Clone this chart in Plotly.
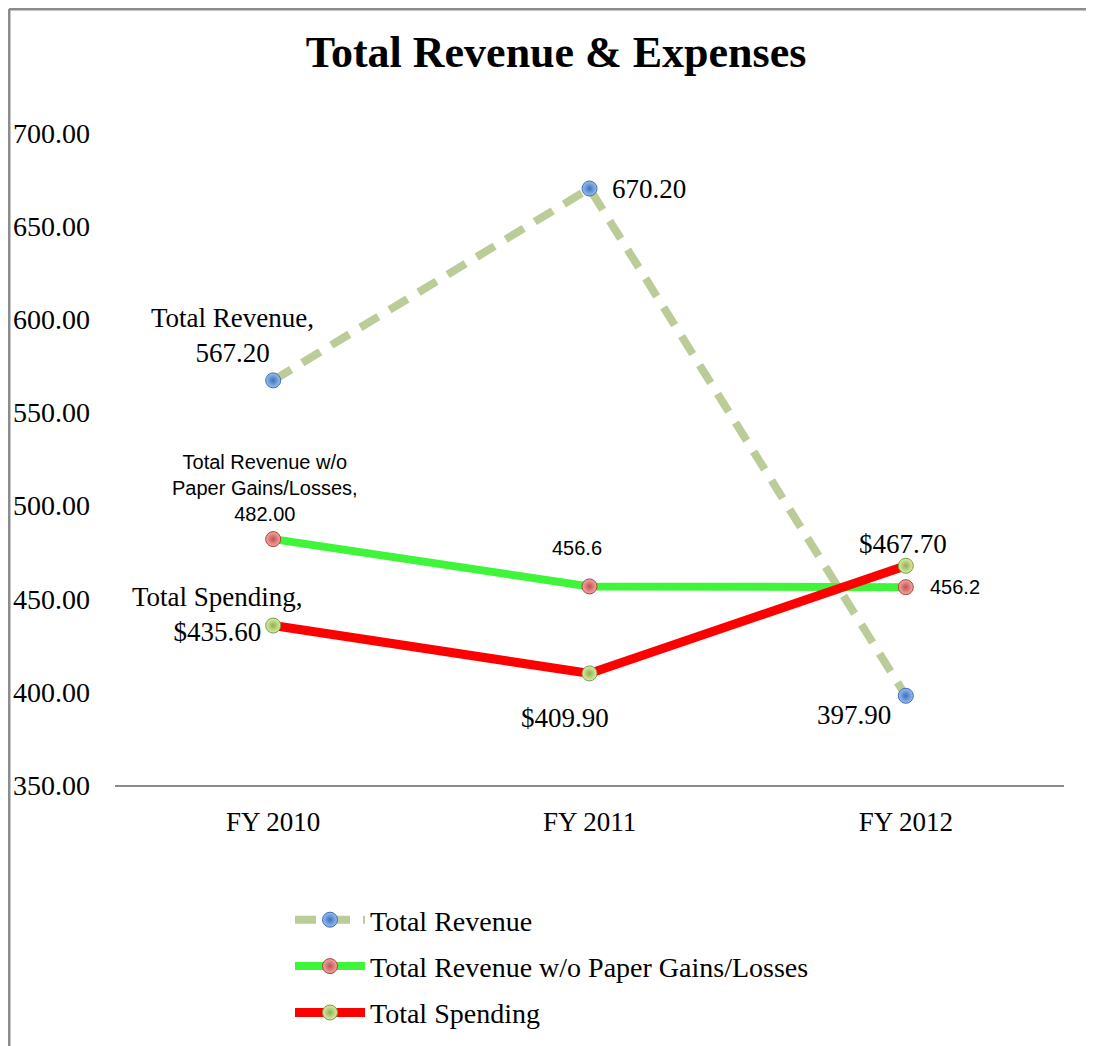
import plotly.graph_objects as go

# ---------------- data ----------------
categories = ["FY 2010", "FY 2011", "FY 2012"]
total_revenue = [567.20, 670.20, 397.90]
revenue_wo_paper = [482.00, 456.6, 456.2]
total_spending = [435.60, 409.90, 467.70]

y_tick_values = [350, 400, 450, 500, 550, 600, 650, 700]
y_tick_labels = ["350.00", "400.00", "450.00", "500.00", "550.00", "600.00", "650.00", "700.00"]

revenue_labels = ["Total Revenue,<br>567.20", "670.20", "397.90"]
wo_paper_labels = ["Total Revenue w/o<br>Paper Gains/Losses,<br>482.00", "456.6", "456.2"]
spending_labels = ["Total Spending,<br>$435.60", "$409.90", "$467.70"]

series_names = ["Total Revenue", "Total Revenue w/o Paper Gains/Losses", "Total Spending"]

# ---------------- styles ----------------
SERIF = "Liberation Serif, Times New Roman, serif"
SANS = "Liberation Sans Narrow, Arial Narrow, Liberation Sans, Arial, sans-serif"
OFF = 8  # page body margin
W, H = 1094 - OFF, 1046 - OFF
ML, MT = 115 - OFF, 133 - OFF
PW, PH = 949, 652
MR, MB = W - ML - PW, H - MT - PH


def px_x(px):  # reference page px -> paper x
    return (px - OFF - ML) / PW


def px_y(py):  # reference page px -> paper y
    return (MT + PH - (py - OFF)) / PH


fig = go.Figure()

fig.add_trace(go.Scatter(
    x=categories, y=total_revenue, name=series_names[0], mode="lines+markers",
    line=dict(color="#BBCC98", width=8, dash="21px,13px"),
    marker=dict(size=15, color="#9CC0EE", line=dict(color="#3F6DB0", width=1),
                gradient=dict(type="radial", color="#3C6FC0")),
    legendgroup="a",
))
fig.add_trace(go.Scatter(
    x=categories, y=revenue_wo_paper, name=series_names[1], mode="lines+markers",
    line=dict(color="#3EF53A", width=8),
    marker=dict(size=15, color="#F4A9A6", line=dict(color="#A84440", width=1),
                gradient=dict(type="radial", color="#C0504D")),
    legendgroup="b",
))
fig.add_trace(go.Scatter(
    x=categories, y=total_spending, name=series_names[2], mode="lines+markers",
    line=dict(color="#FF0000", width=9),
    marker=dict(size=15, color="#DCEDAA", line=dict(color="#7E9A45", width=1),
                gradient=dict(type="radial", color="#8FB04F")),
    legendgroup="c",
))

annotations = []
# (labels, values, font family, font size, per-point (xanchor, yanchor, xshift, yshift))
label_specs = [
    (revenue_labels, total_revenue, SERIF, 27,
     [("center", "bottom", -41, 10), ("left", "middle", 20, 0), ("right", "middle", -13, -19)]),
    (wo_paper_labels, revenue_wo_paper, SANS, 20,
     [("center", "bottom", -8, 12), ("center", "middle", -13, 38), ("left", "middle", 22, 0)]),
    (spending_labels, total_spending, SERIF, 27,
     [("center", "middle", -56, 11), ("center", "middle", -25, -45), ("center", "middle", -3, 22)]),
]
for labels, values, fam, fsize, pos in label_specs:
    for cat, val, txt, (xa, ya, xs, ys) in zip(categories, values, labels, pos):
        annotations.append(dict(
            x=cat, y=val, text=txt, showarrow=False, xanchor=xa, yanchor=ya,
            xshift=xs, yshift=ys, align="center",
            font=dict(family=fam, size=fsize, color="#000000"),
        ))

fig.update_layout(
    width=W, height=H, autosize=False,
    margin=dict(l=ML, r=MR, t=MT, b=MB, autoexpand=False),
    paper_bgcolor="white", plot_bgcolor="white",
    title=dict(text="<b>Total Revenue & Expenses</b>", x=(556 - OFF) / W, xanchor="center",
               y=1 - (52 - OFF) / H, yanchor="middle", yref="container",
               font=dict(family=SERIF, size=44, color="#000000")),
    xaxis=dict(type="category", range=[-0.5, 2.5], showgrid=False, zeroline=False,
               showline=True, linecolor="#8C8C8C", linewidth=1.5, ticks="",
               tickfont=dict(family=SERIF, size=27, color="#000000"),
               ticklabelstandoff=12),
    yaxis=dict(range=[350, 700], tickvals=y_tick_values, ticktext=y_tick_labels,
               showgrid=False, zeroline=False, showline=False, ticks="",
               tickfont=dict(family=SERIF, size=28, color="#000000"),
               ticklabelstandoff=24),
    showlegend=True,
    legend=dict(orientation="v", x=px_x(290), xanchor="left",
                y=px_y(895), yanchor="top",
                traceorder="grouped", tracegroupgap=7,
                font=dict(family=SERIF, size=28, color="#000000"),
                itemwidth=70, bgcolor="rgba(0,0,0,0)"),
    annotations=annotations,
    shapes=[
        dict(type="line", xref="paper", yref="paper",
             x0=px_x(9), x1=px_x(9), y0=px_y(1060), y1=px_y(9),
             line=dict(color="#8C8C8C", width=3)),
        dict(type="line", xref="paper", yref="paper",
             x0=px_x(9), x1=px_x(1100), y0=px_y(9), y1=px_y(9),
             line=dict(color="#8C8C8C", width=3)),
    ],
)

fig.write_html("out.html")
